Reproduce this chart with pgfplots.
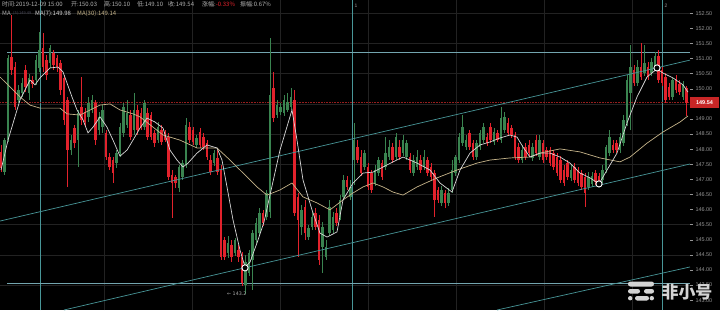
\documentclass[border=0pt]{standalone}
\usepackage{fontspec}
\setmainfont{Liberation Sans}
\newfontfamily\cjk{Noto Sans CJK SC}
\newfontfamily\dv{DejaVu Sans}
\usepackage{pgfplots}
\usepackage{pgfplotstable}
\pgfplotsset{compat=1.18}
\definecolor{upg}{RGB}{58,132,80}
\definecolor{dnr}{RGB}{226,34,44}
\definecolor{maw}{RGB}{215,215,215}
\definecolor{mat}{RGB}{198,180,138}
\definecolor{cyl}{RGB}{72,150,152}
\definecolor{cyh}{RGB}{115,165,175}
\definecolor{gridc}{RGB}{34,34,34}
\definecolor{tickg}{RGB}{150,150,150}
\definecolor{hdr}{RGB}{175,175,175}
\definecolor{pricer}{RGB}{200,38,38}
\definecolor{wm}{RGB}{212,212,212}
\pgfplotstableread{
x o h l c
1 147.91 148.14 147.24 147.38
4.5 147.24 148.37 147.15 148.30
8 148.30 151.12 148.24 151.02
11.5 151.05 152.44 150.46 150.62
15 150.72 150.89 149.30 149.40
18.5 149.63 150.13 149.53 149.96
22 149.86 150.36 149.73 150.19
25.5 150.62 150.79 149.89 150.06
29 149.86 150.49 149.63 150.36
32.5 150.29 150.42 150.03 150.16
36 150.29 151.12 150.13 150.95
39.5 150.69 151.88 150.56 151.28
43 151.35 151.85 150.56 150.72
46.5 150.95 151.12 150.29 150.46
50 150.85 151.45 150.69 151.35
53.5 151.19 151.28 150.62 150.79
57 151.02 151.12 150.56 150.72
60.5 150.85 150.95 149.79 149.96
64 150.36 150.46 148.80 148.97
67.5 149.63 149.73 146.75 147.97
71 147.97 148.47 147.81 148.30
74.5 148.70 148.80 148.04 148.20
78 148.30 149.30 147.41 149.20
81.5 149.40 150.39 148.80 148.97
85 149.23 149.37 148.73 148.90
88.5 149.07 149.73 148.90 149.53
92 149.30 149.79 149.20 149.63
95.5 149.53 149.63 148.14 148.30
99 148.64 149.23 148.47 149.07
102.5 148.73 149.46 148.54 149.30
106 148.54 148.64 147.64 147.74
109.5 147.74 147.87 147.31 147.41
113 147.64 147.74 146.88 147.21
116.5 147.54 147.97 147.38 147.87
120 147.87 148.87 147.74 148.73
123.5 148.54 149.53 148.40 149.40
127 148.80 149.63 148.70 149.20
130.5 149.13 149.30 148.30 148.40
134 148.64 149.86 148.47 149.30
137.5 149.30 149.46 148.47 148.64
141 149.20 149.37 148.64 148.73
144.5 148.73 149.63 148.64 149.53
147.5 149.20 149.37 148.30 148.40
151 149.13 149.23 148.30 148.40
154.5 148.54 148.64 148.07 148.20
158 148.30 148.90 148.20 148.73
161.5 148.64 148.80 148.14 148.24
165 148.57 148.64 148.24 148.30
168.5 148.40 148.54 146.98 147.08
172 147.15 147.31 145.72 146.88
175.5 147.08 147.15 146.71 146.88
179 146.71 147.48 146.58 147.41
182.5 147.08 147.64 146.98 147.54
186 147.48 149.03 147.38 148.80
189.5 148.73 148.90 148.20 148.30
193 148.64 148.73 148.14 148.24
196.5 148.14 148.47 148.04 148.37
200 148.57 148.70 148.04 148.14
203.5 148.40 148.54 147.97 148.07
207 148.20 148.30 147.64 147.74
210.5 147.64 147.81 147.15 147.24
214 147.54 147.97 147.44 147.87
217.5 147.71 147.97 147.15 147.24
221 147.31 147.48 144.33 144.43
224.5 144.99 145.09 144.33 144.43
228 144.56 145.13 144.40 144.89
231.5 144.83 144.99 144.27 144.43
235 144.56 145.06 144.46 144.99
238.5 144.66 144.83 144.27 144.43
242 144.43 144.60 143.47 143.57
245.5 143.50 144.50 143.21 144.27
249 143.90 144.66 143.80 144.56
252.5 144.33 145.32 143.34 145.23
256 144.99 145.72 144.89 145.56
259.5 145.23 146.05 145.13 145.89
263 145.89 145.99 145.46 145.56
266.5 145.76 146.65 145.66 146.55
270 145.92 151.68 145.72 149.79
273.5 150.03 150.56 148.90 149.03
277 149.13 149.63 149.03 149.46
280.5 149.23 149.53 149.13 149.40
284 149.20 149.79 149.10 149.63
287.5 149.30 149.86 149.23 149.56
291 149.40 150.03 149.30 149.73
294.5 149.63 149.96 145.79 145.89
298 146.42 146.55 144.43 145.66
301.5 145.42 146.15 145.16 145.99
305 146.09 146.32 144.99 145.23
308.5 145.09 145.49 144.99 145.39
312 145.42 145.92 145.32 145.76
315.5 145.89 146.05 145.32 145.42
319 145.66 145.82 144.17 144.33
322.5 144.76 145.59 143.90 145.42
326 144.43 144.99 144.33 144.76
329.5 145.23 146.32 145.13 146.09
333 145.32 145.92 145.23 145.76
336.5 145.89 146.05 145.46 145.56
340 145.76 146.48 145.66 146.32
343.5 146.42 147.15 146.32 146.98
347 146.98 147.11 146.65 146.75
350.5 146.42 146.98 146.32 146.75
354 147.64 148.87 146.81 148.30
357.5 148.07 148.30 147.54 147.64
361 147.74 147.97 147.11 147.21
364.5 147.41 147.97 147.31 147.87
368 147.41 147.54 146.65 146.75
371.5 147.21 147.31 146.55 146.65
375 146.88 147.48 146.78 147.31
378.5 147.21 147.74 147.11 147.64
382 147.54 147.64 146.98 147.08
385.5 147.41 148.40 147.31 147.87
389 147.74 148.30 147.64 148.07
392.5 148.07 148.20 147.54 147.64
396 147.74 148.54 147.64 148.40
399.5 148.07 148.30 147.64 147.74
403 147.87 148.47 147.77 148.30
406.5 147.74 148.30 147.64 148.20
410 147.74 147.87 147.21 147.31
413.5 147.21 147.81 147.11 147.64
417 147.41 147.97 147.31 147.74
420.5 147.64 147.81 147.21 147.31
424 147.41 147.97 147.31 147.74
427.5 147.64 147.74 147.11 147.21
431 147.41 147.54 146.98 147.08
434.5 147.21 147.31 145.76 146.32
438 146.65 146.75 146.22 146.32
441.5 146.22 146.78 146.12 146.65
445 146.55 146.65 146.05 146.22
448.5 146.22 146.71 146.12 146.55
452 146.65 147.64 146.55 147.31
455.5 147.21 147.81 147.11 147.74
459 147.64 148.54 147.54 148.40
462.5 148.20 149.13 148.10 148.73
466 148.07 148.47 147.97 148.30
469.5 148.54 148.64 147.97 148.07
473 148.20 148.30 147.64 147.74
476.5 147.74 148.30 147.64 148.20
480 148.07 148.64 147.97 148.54
483.5 148.30 148.87 148.20 148.73
487 148.40 148.54 148.10 148.20
490.5 148.73 148.87 148.20 148.30
494 148.24 148.70 148.14 148.57
497.5 148.54 148.64 148.24 148.30
501 148.30 149.40 148.20 149.03
504.5 148.64 149.23 148.54 149.07
508 148.87 149.03 148.44 148.54
511.5 148.70 148.80 148.37 148.47
515 148.47 148.57 147.64 147.74
518.5 148.07 148.20 147.54 147.64
522 147.64 148.14 147.54 147.97
525.5 148.07 148.20 147.64 147.74
529 148.14 148.30 147.77 147.87
532.5 147.71 148.20 147.61 148.07
536 148.30 148.47 147.77 147.87
539.5 147.74 148.47 147.64 148.30
543 148.20 148.30 147.54 147.64
546.5 147.97 148.07 147.64 147.74
550 147.97 148.07 147.44 147.54
553.5 147.87 147.97 147.31 147.41
557 147.74 147.87 147.11 147.21
560.5 147.64 147.77 146.88 146.98
564 147.31 147.48 146.78 146.88
567.5 147.54 147.64 146.98 147.08
571 147.05 147.48 146.95 147.31
574.5 147.41 147.54 146.88 146.98
578 147.31 147.41 146.78 146.88
581.5 147.21 147.31 146.65 146.75
585 147.08 147.21 146.09 146.55
588.5 146.75 147.24 146.65 147.08
592 146.85 147.24 146.75 147.11
595.5 147.21 147.31 146.81 146.91
599 147.11 147.21 146.75 146.85
602.5 146.98 147.48 146.88 147.31
606 147.31 148.14 147.21 148.07
609.5 147.87 148.64 147.77 148.40
613 148.14 148.30 147.87 147.97
616.5 148.20 148.30 147.87 147.97
620 147.97 148.54 147.87 148.40
623.5 148.20 149.13 148.10 148.97
627 148.87 150.46 148.77 150.29
630.5 149.86 151.45 148.64 150.72
634 150.62 150.79 150.09 150.19
637.5 150.19 150.95 150.09 150.72
641 150.72 151.52 150.29 150.39
644.5 150.52 151.45 150.42 150.85
648 150.72 150.89 150.29 150.39
651.5 150.52 151.02 150.42 150.89
655 150.72 151.22 150.62 151.09
658.5 151.09 151.28 150.19 150.29
662 150.62 150.75 150.09 150.19
665.5 150.39 150.52 149.53 149.63
669 150.06 150.19 149.63 149.73
672.5 149.73 150.36 149.63 150.29
676 150.29 150.46 149.86 149.96
679.5 150.16 150.29 149.79 149.89
683 149.73 150.26 149.63 150.13
686.5 150.03 150.10 149.10 149.54
}\candles
\begin{document}
\begin{tikzpicture}[x=1bp,y=1bp]
\fill[black] (0,0) rectangle (720,310);
\path[use as bounding box] (0,0) rectangle (720,310);
\begin{axis}[
  at={(0,0)}, anchor=south west,
  width=690bp, height=310bp, scale only axis,
  xmin=0, xmax=690, ymin=142.675, ymax=152.94,
  axis line style={draw=none},
  xtick=\empty,
  ytick={143,143.5,144,144.5,145,145.5,146,146.5,147,147.5,148,148.5,149,149.5,150,150.5,151,151.5,152,152.5},
  yticklabel pos=right,
  yticklabel style={font=\fontsize{5.5}{6}\selectfont, text=tickg, xshift=-1bp,
    /pgf/number format/.cd, fixed, fixed zerofill, precision=2, assume math mode=true},
  tick style={draw=tickg, line width=0.4bp},
  major tick length=3bp, tick align=outside,
]
% faint grid
\pgfplotsinvokeforeach{143.5,144.5,145.5,146.5,147.5,148.5,149.5,150.5,151.5,152.5}{
  \addplot[gridc, line width=0.5bp, forget plot] coordinates {(0,#1) (690,#1)};
}
\pgfplotsinvokeforeach{104,192,280,368,456,544,632}{
  \addplot[gridc, line width=0.5bp, forget plot] coordinates {(#1,142.675) (#1,152.94)};
}
% vertical markers
\addplot[cyl, line width=0.7bp] coordinates {(40,142.675) (40,152.94)};
\addplot[cyl, line width=0.7bp] coordinates {(352,142.675) (352,152.94)};
\addplot[cyl, line width=0.7bp] coordinates {(662,142.675) (662,152.94)};
% horizontal levels
\addplot[cyh, line width=0.7bp] coordinates {(7,151.19) (690,151.19)};
\addplot[cyh, line width=0.7bp] coordinates {(7,143.57) (690,143.57)};
% last price line
\addplot[pricer!75!black, line width=0.6bp, densely dotted] coordinates {(0,149.54) (690,149.54)};
% candles: wicks
\addplot[draw=none, mark=none, forget plot,
  restrict expr to domain={\thisrow{c}-\thisrow{o}}{0:100},
  error bars/.cd, y dir=both, y explicit, error mark=none,
  error bar style={draw=upg, line width=0.6bp}]
  table[x=x, y expr={(\thisrow{h}+\thisrow{l})/2}, y error expr={(\thisrow{h}-\thisrow{l})/2}] {\candles};
\addplot[draw=none, mark=none, forget plot,
  restrict expr to domain={\thisrow{c}-\thisrow{o}}{-100:-0.0001},
  error bars/.cd, y dir=both, y explicit, error mark=none,
  error bar style={draw=dnr, line width=0.6bp}]
  table[x=x, y expr={(\thisrow{h}+\thisrow{l})/2}, y error expr={(\thisrow{h}-\thisrow{l})/2}] {\candles};
% candles: bodies
\addplot[draw=none, mark=none, forget plot,
  restrict expr to domain={\thisrow{c}-\thisrow{o}}{0:100},
  error bars/.cd, y dir=both, y explicit, error mark=none,
  error bar style={draw=upg, line width=2.6bp}]
  table[x=x, y expr={(\thisrow{o}+\thisrow{c})/2}, y error expr={abs(\thisrow{c}-\thisrow{o})/2}] {\candles};
\addplot[draw=none, mark=none, forget plot,
  restrict expr to domain={\thisrow{c}-\thisrow{o}}{-100:-0.0001},
  error bars/.cd, y dir=both, y explicit, error mark=none,
  error bar style={draw=dnr, line width=2.6bp}]
  table[x=x, y expr={(\thisrow{o}+\thisrow{c})/2}, y error expr={abs(\thisrow{c}-\thisrow{o})/2}] {\candles};
% channel lines
\addplot[cyl, line width=0.7bp] coordinates {(0,145.62) (690,150.95)};
\addplot[cyl, line width=0.7bp] coordinates {(64,142.675) (690,147.51)};
\addplot[cyl, line width=0.7bp] coordinates {(497,142.675) (690,144.10)};
% MA(30)
\addplot[mat, line width=0.7bp] coordinates {
(0,150.39) (10,150.06) (20,149.73) (30,149.46) (40,149.36) (60,149.36) (67,149.17) (80,149.13)
(100,149.46) (110,149.50) (120,149.30) (133,149.17) (140,149.07) (163,148.47) (180,148.30)
(197,148.04) (217,148.04) (230,147.64) (247,147.08) (257,146.75) (267,146.48) (280,146.65)
(292,146.88) (303,146.42) (317,146.22) (330,145.99) (343,146.32) (353,146.55) (363,146.75)
(373,146.88) (383,146.75) (393,146.58) (403,146.48) (417,146.75) (437,147.05) (457,147.31)
(477,147.54) (490,147.64) (510,147.71) (530,147.74) (540,147.87) (560,148.01) (580,147.91)
(600,147.71) (620,147.58) (630,147.74) (647,148.20) (663,148.57) (680,148.90) (688,149.10)};
% MA(7)
\addplot[maw, line width=0.7bp] coordinates {
(1,147.31) (8,148.30) (20,149.63) (30,150.29) (35,150.13) (40,150.36) (50,150.69) (58,150.72)
(63,150.56) (67,150.19) (72,149.73) (77,149.30) (83,148.97) (88,148.54) (93,148.73) (100,149.07)
(107,148.73) (113,148.30) (120,147.77) (127,147.97) (133,148.30) (140,148.70) (147,149.03)
(155,148.90) (163,148.70) (170,147.97) (177,147.64) (183,147.41) (188,147.54) (197,147.87)
(207,148.14) (217,148.04) (222,147.64) (227,146.75) (233,145.66) (240,144.66) (245,144.10)
(250,144.26) (258,144.99) (264,145.59) (270,146.48) (280,147.97) (292,149.30) (297,148.30)
(303,146.98) (312,145.99) (320,145.22) (327,145.09) (337,145.26) (343,146.32) (353,146.88)
(363,147.21) (373,147.24) (383,147.41) (393,147.58) (403,147.74) (417,147.54) (430,147.31)
(440,146.88) (452,146.58) (460,147.31) (470,147.87) (480,148.14) (490,148.24) (500,148.37)
(510,148.47) (517,148.40) (523,148.07) (530,147.74) (540,147.87) (550,147.87) (560,147.74)
(570,147.54) (580,147.21) (590,147.05) (599,146.85) (607,147.31) (617,147.87) (627,148.87)
(637,149.73) (647,150.39) (657,150.66) (663,150.52) (673,150.36) (683,150.13) (688,149.89)};
% marked points
\addplot[only marks, mark=*, mark size=3.1bp, mark options={fill=black, draw=white, line width=0.9bp}]
  coordinates {(245,144.07) (599,146.85) (657,150.69)};
\end{axis}
% header
\begin{scope}[every node/.style={anchor=west, inner sep=0pt, text=hdr, font=\cjk\fontsize{6}{7}\selectfont}]
\node at (2,305.5) {时间:2019-12-09 15:00};
\node at (71,305.5) {开:150.03};
\node at (104,305.5) {高:150.10};
\node at (137,305.5) {低:149.10};
\node at (168,305.5) {收:149.54};
\node at (202,305.5) {涨幅:\textcolor{dnr}{-0.33\%}};
\node at (240,305.5) {振幅:0.67\%};
\node at (2,296.5) {MA};
\node[text={rgb,255:red,70;green,70;blue,85}, font=\cjk\fontsize{4}{5}\selectfont] at (13,296.5) {(5):149.49};
\node[text=maw] at (35,296.5) {MA(7):149.98};
\node[text=mat] at (77,296.5) {MA(30):149.14};
\end{scope}
\node[text=tickg, font=\fontsize{5}{5}\selectfont, inner sep=0pt] at (356,304) {1};
\node[text=tickg, font=\fontsize{5}{5}\selectfont, inner sep=0pt] at (666,304) {2};
% price tag
\fill[pricer] (690,201.8) rectangle (719,212.8);
\node[text=white, font=\bfseries\fontsize{5.5}{6}\selectfont, inner sep=0pt] at (704.5,207.3) {149.54};
% low label
\node[text=hdr, font=\dv\fontsize{4.8}{5}\selectfont, inner sep=0pt, anchor=west] at (227,16) {← 143.2};
% watermark
\fill[wm, rounded corners=2.4bp] (628,23.5) rectangle (654,28.5);
\fill[wm, rounded corners=2.2bp] (628,16.5) rectangle (640,21);
\fill[wm, rounded corners=2.2bp] (644,16.5) rectangle (654,21);
\fill[wm] (630.2,11.8) circle (2.2);
\fill[wm, rounded corners=2.2bp] (635,9.5) rectangle (649,14);
\fill[wm] (651.8,11.8) circle (2.2);
\node[text=wm, font=\cjk\bfseries\fontsize{17}{17}\selectfont, inner sep=0pt] at (687,18) {非小号};
\end{tikzpicture}
\end{document}
